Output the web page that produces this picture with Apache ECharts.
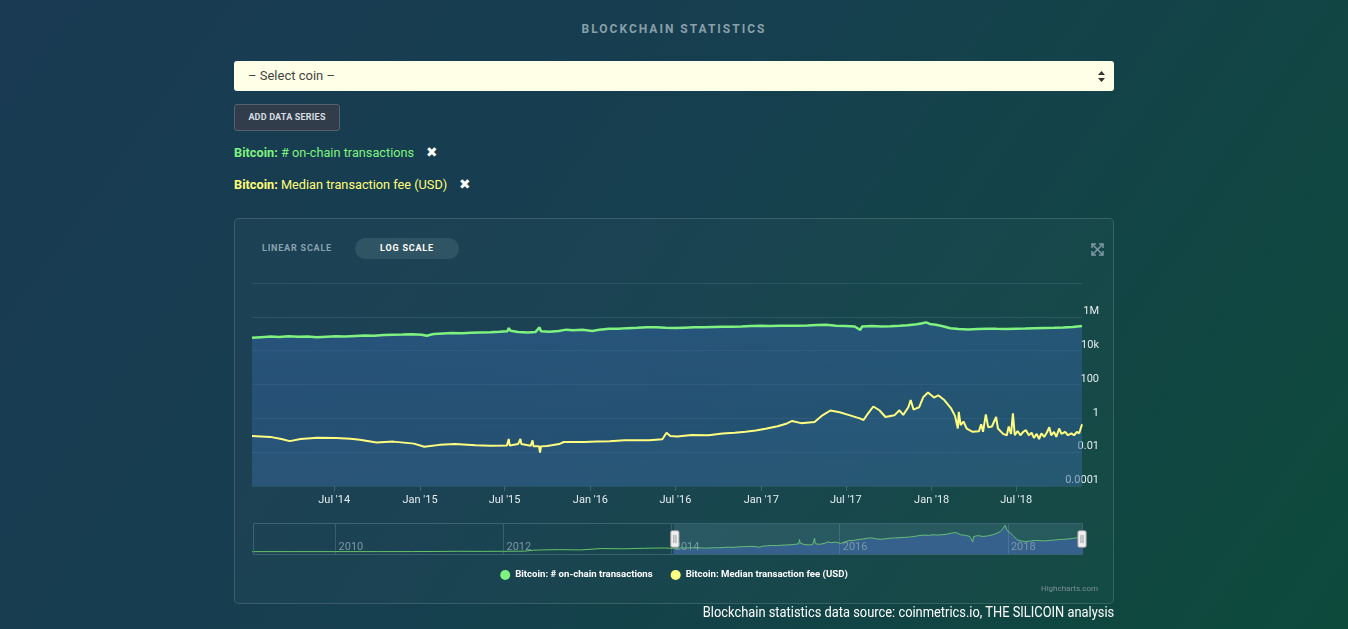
<!DOCTYPE html>
<html>
<head>
<meta charset="utf-8">
<title>Blockchain statistics</title>
<script src="https://cdn.jsdelivr.net/npm/echarts@6/dist/echarts.min.js"></script>
<style>
  html, body { margin: 0; width: 1348px; height: 629px; overflow: hidden; }
  body {
    position: relative;
    font-family: Roboto, "Noto Sans", sans-serif;
    background: linear-gradient(125deg, #193a52 0%, #163f4f 45%, #0d4a3b 100%);
  }
  .abs { position: absolute; }
  .title { left: 0; width: 1348px; top: 22px; text-align: center; color: #8aa0a9; font-weight: 700; font-size: 12px; letter-spacing: 2px; }
  .select { left: 234px; top: 61px; width: 880px; height: 30px; background: #fffee6; border-radius: 3px; }
  .select span { position: absolute; left: 14px; top: 7px; font-size: 13px; color: #444; }
  .select svg { position: absolute; right: 9px; top: 10px; }
  .btn { left: 234px; top: 104px; width: 104px; height: 25px; background: #313d4b; border: 1px solid #56616d; border-radius: 3px;
         color: #d8dde2; font-size: 9px; font-weight: 700; text-align: center; line-height: 25px; letter-spacing: 0.2px; }
  .serie { left: 234px; font-size: 13px; transform: scaleX(0.98); transform-origin: left center; white-space: nowrap; }
  .serie b { font-weight: 700; }
  .serie .x { color: #fff; font-size: 14px; margin-left: 12px; }
  .box { left: 234px; top: 218px; width: 878px; height: 384px; border: 1px solid rgba(255,255,255,0.14); border-radius: 5px; background: rgba(255,255,255,0.025); }
  .scale { font-size: 9px; font-weight: 700; letter-spacing: 0.8px; }
  .pill { left: 355px; top: 238px; width: 104px; height: 21px; border-radius: 11px; background: #2f5564; color: #fff; text-align: center; line-height: 21px; }
  #chart { left: 234px; top: 218px; width: 880px; height: 386px; }
  .credit { right: 250px; top: 584px; font-size: 8px; color: #7d8f96; }
  .note { right: 234px; top: 604px; font-size: 14px; color: #fff; transform: scaleX(0.92); transform-origin: right center; white-space: nowrap; }
</style>
</head>
<body>
<div class="abs title">BLOCKCHAIN STATISTICS</div>
<div class="abs select"><span>– Select coin –</span>
  <svg width="7" height="11" viewBox="0 0 7 11"><path d="M3.5 0 L7 4 L0 4 Z M3.5 11 L7 7 L0 7 Z" fill="#333"/></svg>
</div>
<div class="abs btn">ADD DATA SERIES</div>
<div class="abs serie" style="top:144px;color:#7ef27e"><b>Bitcoin:</b> # on-chain transactions<span class="x">✖</span></div>
<div class="abs serie" style="top:176px;color:#ffff7a"><b>Bitcoin:</b> Median transaction fee (USD)<span class="x">✖</span></div>
<div class="abs box"></div>
<div class="abs scale" style="left:262px;top:243px;color:#8aa3ae">LINEAR SCALE</div>
<div class="abs scale pill">LOG SCALE</div>
<svg class="abs" style="left:1091px;top:243px" width="13" height="13" viewBox="0 0 13 13">
  <g stroke="#7e99a3" stroke-width="1.5" fill="none">
    <path d="M1 1 L12 12 M12 1 L1 12"/>
    <path d="M1 5 V1 H5 M8 1 H12 V5 M12 8 V12 H8 M5 12 H1 V8"/>
  </g>
</svg>
<div class="abs" id="chart"></div>
<div class="abs credit">Highcharts.com</div>
<div class="abs note">Blockchain statistics data source: coinmetrics.io, THE SILICOIN analysis</div>

<script>
// Bitcoin daily on-chain transactions (main view)
const txDates = [
  '2014-01-06','2014-01-25','2014-02-15','2014-03-05','2014-03-25','2014-04-15','2014-05-05','2014-05-25',
  '2014-06-15','2014-07-05','2014-07-25','2014-08-15','2014-09-05','2014-09-25','2014-10-15','2014-11-05',
  '2014-11-25','2014-12-15','2015-01-05','2015-01-15','2015-01-30','2015-02-20','2015-03-10','2015-04-01',
  '2015-04-20','2015-05-10','2015-06-01','2015-06-20','2015-07-07','2015-07-10','2015-07-14','2015-07-30',
  '2015-08-20','2015-09-05','2015-09-14','2015-09-17','2015-10-05','2015-10-25','2015-11-10','2015-11-25',
  '2015-12-15','2016-01-05','2016-01-20','2016-02-10','2016-03-01','2016-03-20','2016-04-10','2016-05-01',
  '2016-05-20','2016-06-10','2016-06-30','2016-07-20','2016-08-10','2016-08-30','2016-09-20','2016-10-10',
  '2016-10-30','2016-11-20','2016-12-10','2017-01-01','2017-01-20','2017-02-10','2017-03-01','2017-03-20',
  '2017-04-10','2017-05-01','2017-05-20','2017-06-10','2017-06-30','2017-07-20','2017-08-01','2017-08-05',
  '2017-08-25','2017-09-15','2017-10-05','2017-10-25','2017-11-10','2017-11-30','2017-12-12','2017-12-20',
  '2017-12-28','2018-01-10','2018-01-25','2018-02-10','2018-02-28','2018-03-20','2018-04-10','2018-05-01',
  '2018-05-20','2018-06-10','2018-06-30','2018-07-20','2018-08-10','2018-08-30','2018-09-20','2018-10-10',
  '2018-10-30','2018-11-19'
];
const txCount = [
  58000, 63000, 68000, 64000, 70000, 66000, 68000, 62000,
  66000, 70000, 68000, 74000, 80000, 76000, 84000, 88000,
  90000, 94000, 88000, 76000, 96000, 104000, 110000, 108000,
  114000, 118000, 122000, 130000, 140000, 215000, 150000, 128000,
  120000, 125000, 240000, 140000, 130000, 145000, 175000, 160000,
  170000, 145000, 170000, 195000, 200000, 215000, 225000, 240000,
  245000, 225000, 220000, 230000, 240000, 245000, 250000, 255000,
  260000, 270000, 285000, 295000, 290000, 300000, 295000, 300000,
  310000, 330000, 340000, 300000, 290000, 270000, 170000, 270000,
  285000, 270000, 280000, 300000, 320000, 360000, 420000, 470000,
  380000, 340000, 280000, 210000, 190000, 180000, 190000, 200000,
  195000, 190000, 200000, 205000, 215000, 220000, 225000, 235000,
  250000, 290000
];

// Earlier history, only drawn in the navigator
const histDates = [
  '2009-01-03','2009-07-01','2010-01-01','2010-07-01','2010-12-01','2011-03-01','2011-06-15','2011-10-01',
  '2012-01-01','2012-04-01','2012-05-10','2012-06-15','2012-09-01','2012-12-01','2013-03-01','2013-06-01',
  '2013-09-01','2013-12-01'
];
const histTx = [
  100, 150, 250, 400, 1000, 2500, 6000, 4500,
  6500, 8000, 25000, 30000, 35000, 30000, 55000, 50000,
  60000, 65000
];

// Bitcoin median transaction fee (USD)
const feeDates = [
  '2014-01-06','2014-02-14','2014-03-10','2014-03-28','2014-04-20','2014-05-26','2014-07-05','2014-08-05',
  '2014-08-25','2014-09-30','2014-11-05','2014-12-19','2015-01-10','2015-02-12','2015-03-17','2015-04-30',
  '2015-06-01','2015-07-06','2015-07-10','2015-07-12','2015-07-30','2015-08-04','2015-08-06','2015-08-26',
  '2015-08-30','2015-09-01','2015-09-13','2015-09-15','2015-09-17','2015-09-30','2015-10-26','2015-11-05',
  '2015-12-19','2016-01-15','2016-02-11','2016-03-14','2016-05-06','2016-06-03','2016-06-12','2016-06-20',
  '2016-07-05','2016-08-05','2016-09-10','2016-10-10','2016-11-05','2016-11-28','2016-12-20','2017-01-10',
  '2017-02-05','2017-02-25','2017-03-08','2017-03-27','2017-04-25','2017-05-12','2017-05-29','2017-06-18',
  '2017-07-10','2017-07-31','2017-08-08','2017-08-19','2017-08-29','2017-09-11','2017-09-24','2017-10-13',
  '2017-10-24','2017-11-01','2017-11-12','2017-11-17','2017-11-23','2017-12-05','2017-12-14','2017-12-24',
  '2018-01-06','2018-01-15','2018-01-28','2018-02-12','2018-02-20','2018-02-26','2018-02-28','2018-03-04',
  '2018-03-10','2018-03-17','2018-03-30','2018-04-12','2018-04-17','2018-04-21','2018-04-27','2018-05-02',
  '2018-05-10','2018-05-19','2018-05-23','2018-06-03','2018-06-11','2018-06-15','2018-06-20','2018-06-24',
  '2018-06-28','2018-07-04','2018-07-10','2018-07-16','2018-07-22','2018-07-28','2018-08-03','2018-08-08',
  '2018-08-14','2018-08-19','2018-08-24','2018-08-30','2018-09-05','2018-09-10','2018-09-14','2018-09-20',
  '2018-09-25','2018-10-01','2018-10-06','2018-10-14','2018-10-20','2018-10-27','2018-11-02','2018-11-08',
  '2018-11-13','2018-11-19'
];
const feeUsd = [
  0.09, 0.08, 0.06, 0.045, 0.06, 0.07, 0.068, 0.062,
  0.055, 0.037, 0.042, 0.032, 0.021, 0.027, 0.03, 0.026,
  0.024, 0.025, 0.06, 0.025, 0.03, 0.06, 0.03, 0.024,
  0.05, 0.022, 0.022, 0.0095, 0.022, 0.023, 0.03, 0.04,
  0.04, 0.042, 0.044, 0.05, 0.05, 0.058, 0.14, 0.09,
  0.085, 0.105, 0.1, 0.125, 0.14, 0.16, 0.19, 0.24,
  0.34, 0.5, 0.7, 0.52, 0.6, 1.5, 2.9, 2.3,
  1.5, 1.0, 0.8, 2.2, 5, 3, 1.2, 1.5,
  3, 1.6, 4.5, 12, 3.3, 4.5, 18, 34,
  17, 23, 12, 3.7, 1.4, 0.25, 2.4, 0.4,
  0.65, 0.25, 0.16, 0.17, 0.45, 0.16, 1.7, 0.3,
  0.33, 1.2, 0.25, 0.12, 0.1, 0.33, 0.12, 2.0,
  0.1, 0.18, 0.1, 0.16, 0.2, 0.1, 0.14, 0.07,
  0.12, 0.06, 0.13, 0.08, 0.15, 0.3, 0.1, 0.16,
  0.08, 0.25, 0.12, 0.16, 0.1, 0.13, 0.1, 0.16,
  0.13, 0.45
];

// axes
const fullStart = '2009-01-03';
const fullEnd = '2018-11-19';
const xTickDates = ['2014-07-01','2015-01-01','2015-07-01','2016-01-01','2016-07-01','2017-01-01','2017-07-01','2018-01-01','2018-07-01'];
const xTickLabels = ["Jul '14","Jan '15","Jul '15","Jan '16","Jul '16","Jan '17","Jul '17","Jan '18","Jul '18"];
const navYears = ['2010','2012','2014','2016','2018'];
const yTickPowers = [-4, -2, 0, 2, 4, 6, 8];
const yTickLabels = ['0.0001', '0.01', '1', '100', '10k', '1M', ''];

const txName = 'Bitcoin: # on-chain transactions';
const feeName = 'Bitcoin: Median transaction fee (USD)';
const DAY = 86400000;

const ts = (d) => Date.parse(d);
const pairs = (dates, vals) => dates.map((d, i) => [ts(d), vals[i]]);
const xTicks = xTickDates.map(ts);
const navTicks = navYears.map((y) => ts(y + '-01-01'));

const labelFor = (ticks, labels) => (v) => {
  const i = ticks.findIndex((t) => Math.abs(t - v) < DAY);
  return i < 0 ? '' : labels[i];
};

const chart = echarts.init(document.getElementById('chart'));
const font = 'Roboto, sans-serif';

chart.setOption({
  animation: false,
  textStyle: { fontFamily: font },
  grid: [
    { left: 18, top: 65, width: 830, height: 203 },
    { left: 18, top: 305, width: 830, height: 32 }
  ],
  legend: {
    data: [txName, feeName],
    left: 'center',
    top: 347,
    icon: 'circle',
    itemWidth: 10,
    itemHeight: 10,
    itemGap: 18,
    textStyle: { color: '#ffffff', fontWeight: 'bold', fontSize: 9.6, fontFamily: font }
  },
  xAxis: [
    {
      type: 'value',
      gridIndex: 0,
      min: ts(fullStart),
      max: ts(fullEnd),
      axisLine: { show: false },
      splitLine: { show: false },
      axisTick: { show: true, length: 5, customValues: xTicks, lineStyle: { color: '#3f6674' } },
      axisLabel: {
        customValues: xTicks,
        color: '#e4ecef',
        fontSize: 11,
        margin: 9,
        formatter: labelFor(xTicks, xTickLabels)
      }
    },
    {
      type: 'value',
      gridIndex: 1,
      z: 3,
      min: ts(fullStart),
      max: ts(fullEnd),
      axisLine: { show: false },
      axisTick: { show: false, customValues: navTicks },
      splitLine: { show: true, lineStyle: { color: 'rgba(120,165,185,0.3)' } },
      axisLabel: {
        customValues: navTicks,
        inside: true,
        align: 'left',
        margin: 2,
        padding: [0, 0, 0, 3],
        color: '#7b97a3',
        fontSize: 11,
        formatter: labelFor(navTicks, navYears)
      }
    }
  ],
  yAxis: [
    {
      type: 'log',
      logBase: 100,
      gridIndex: 0,
      min: 1e-4,
      max: 1e8,
      position: 'right',
      axisLine: { show: false },
      axisTick: { show: false },
      splitLine: { lineStyle: { color: 'rgba(130,180,210,0.16)' } },
      axisLabel: {
        align: 'right',
        verticalAlign: 'bottom',
        margin: 17,
        color: '#e4ecef',
        fontSize: 11,
        formatter: (v) => {
          const i = yTickPowers.indexOf(Math.round(Math.log10(v)));
          return i < 0 ? '' : yTickLabels[i];
        }
      }
    },
    { type: 'value', gridIndex: 1, min: -60000, max: 510000, show: false }
  ],
  dataZoom: [
    {
      type: 'slider',
      xAxisIndex: 0,
      filterMode: 'none',
      z: 6,
      left: 18,
      width: 830,
      top: 305,
      height: 32,
      startValue: ts(txDates[0]),
      endValue: ts(fullEnd),
      showDetail: false,
      showDataShadow: false,
      brushSelect: false,
      moveHandleSize: 0,
      backgroundColor: 'rgba(0,0,0,0)',
      borderColor: '#3b6372',
      borderRadius: 0,
      fillerColor: 'rgba(110,160,185,0.2)',
      handleIcon: 'path://M1.5,0h5a1.5,1.5 0 0 1 1.5,1.5v13a1.5,1.5 0 0 1-1.5,1.5h-5a1.5,1.5 0 0 1-1.5-1.5v-13a1.5,1.5 0 0 1 1.5-1.5z M3,4v8 M5,4v8',
      handleSize: '52%',
      handleStyle: { color: '#f0f0f0', borderColor: '#9a9a9a', borderWidth: 1 }
    }
  ],
  series: [
    {
      name: txName,
      type: 'line',
      xAxisIndex: 0,
      yAxisIndex: 0,
      data: pairs(txDates, txCount),
      showSymbol: false,
      z: 2,
      lineStyle: { color: '#7ff27f', width: 2.5 },
      itemStyle: { color: '#7ff27f' },
      areaStyle: {
        origin: 'start',
        color: {
          type: 'linear', x: 0, y: 0, x2: 0, y2: 1,
          colorStops: [
            { offset: 0, color: 'rgba(48,96,150,0.85)' },
            { offset: 1, color: 'rgba(48,96,150,0.62)' }
          ]
        }
      }
    },
    {
      name: feeName,
      type: 'line',
      xAxisIndex: 0,
      yAxisIndex: 0,
      data: pairs(feeDates, feeUsd),
      showSymbol: false,
      z: 3,
      lineStyle: { color: '#ffff80', width: 2 },
      itemStyle: { color: '#ffff80' },
      areaStyle: { origin: 'start', color: 'rgba(90,140,200,0.13)' }
    },
    {
      name: 'nav-fill',
      type: 'line',
      xAxisIndex: 1,
      yAxisIndex: 1,
      data: pairs(txDates, txCount),
      showSymbol: false,
      silent: true,
      z: 1,
      lineStyle: { width: 0 },
      areaStyle: { origin: 'start', color: '#2a5282', opacity: 1 }
    },
    {
      name: 'nav-line',
      type: 'line',
      xAxisIndex: 1,
      yAxisIndex: 1,
      data: pairs(histDates.concat(txDates), histTx.concat(txCount)),
      showSymbol: false,
      silent: true,
      z: 4,
      lineStyle: { color: '#66c466', width: 1 }
    }
  ]
});
</script>
</body>
</html>
